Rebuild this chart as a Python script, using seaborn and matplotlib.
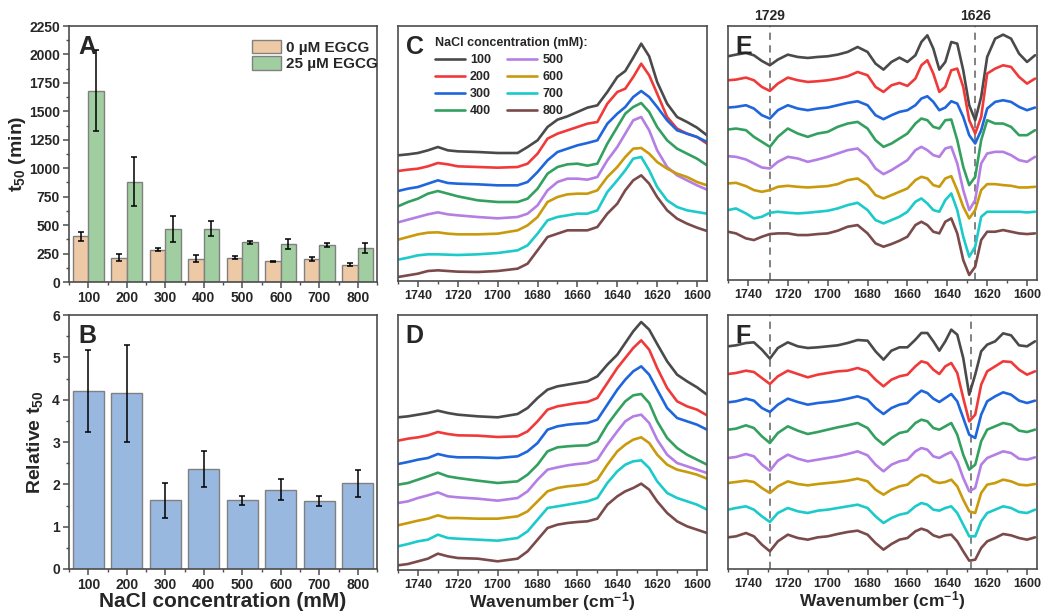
import matplotlib
matplotlib.use("Agg")
import matplotlib.pyplot as plt
import seaborn as sns
import pandas as pd
from matplotlib.ticker import MultipleLocator

# ---- data ----
nacl = ['100', '200', '300', '400', '500', '600', '700', '800']

# panel A: t50 (min)
t50_0 = [400, 214, 285, 205, 214, 182, 202, 153]
t50_0_err = [40, 30, 15, 30, 15, 5, 15, 10]
t50_25 = [1680, 880, 466, 470, 348, 337, 325, 299]
t50_25_err = [355, 215, 115, 65, 15, 45, 15, 45]

# panel B: relative t50
rel_t50 = [4.21, 4.15, 1.62, 2.36, 1.62, 1.87, 1.61, 2.02]
rel_t50_err = [0.97, 1.15, 0.41, 0.43, 0.11, 0.25, 0.12, 0.33]

# spectra (a.u., stacked as in the figure)
wn_cd = [1750, 1745, 1740, 1735, 1730, 1725, 1720, 1710, 1700, 1690, 1685, 1680, 1675, 1670, 1665,
         1660, 1655, 1650, 1645, 1640, 1636, 1632, 1628, 1624, 1620, 1615, 1610, 1605, 1600, 1595]
wn_ef = [1750, 1746, 1741, 1737, 1733, 1729, 1725, 1720, 1715, 1710, 1705, 1700, 1695, 1690, 1685,
         1680, 1676, 1672, 1668, 1664, 1660, 1656, 1653, 1650, 1647, 1644, 1641, 1638, 1635, 1632,
         1629, 1626, 1623, 1620, 1616, 1612, 1608, 1604, 1600, 1596]

spec_c = {
    '100': [375, 378, 382, 390, 400, 390, 387, 385, 382, 382, 400, 420, 460, 482, 492, 505, 518, 525, 565, 610, 628, 668, 710, 672, 595, 530, 490, 475, 458, 435],
    '200': [328, 332, 335, 342, 352, 348, 342, 340, 338, 340, 350, 380, 425, 440, 450, 460, 470, 475, 530, 565, 575, 610, 650, 615, 560, 490, 455, 440, 430, 410],
    '300': [268, 275, 280, 290, 300, 292, 290, 288, 285, 285, 295, 325, 360, 385, 395, 405, 412, 420, 470, 500, 520, 550, 568, 550, 520, 480, 450, 440, 430, 415],
    '400': [222, 235, 245, 260, 268, 260, 252, 240, 235, 235, 245, 275, 320, 340, 348, 350, 344, 350, 410, 460, 500, 520, 532, 505, 460, 420, 395, 380, 365, 345],
    '500': [174, 182, 190, 198, 204, 198, 195, 190, 186, 190, 200, 225, 270, 295, 305, 305, 302, 310, 360, 400, 440, 480, 490, 450, 390, 340, 315, 300, 285, 272],
    '600': [122, 130, 138, 143, 144, 140, 138, 138, 140, 150, 165, 190, 235, 250, 258, 260, 260, 270, 310, 340, 370, 395, 397, 380, 355, 335, 320, 310, 295, 285],
    '700': [62, 68, 75, 78, 78, 77, 76, 78, 82, 90, 105, 140, 180, 190, 195, 200, 200, 210, 265, 300, 330, 365, 370, 330, 280, 240, 220, 210, 205, 200],
    '800': [10, 15, 20, 28, 30, 28, 26, 25, 28, 35, 50, 90, 130, 140, 150, 150, 150, 160, 200, 230, 270, 300, 315, 290, 250, 210, 185, 170, 158, 148],
}
spec_d = {
    '100': [452, 455, 460, 465, 472, 465, 460, 455, 452, 462, 480, 510, 535, 545, 550, 555, 560, 575, 610, 640, 675, 710, 738, 715, 672, 620, 580, 560, 542, 520],
    '200': [382, 388, 392, 398, 408, 402, 398, 397, 393, 395, 410, 440, 475, 485, 490, 495, 498, 510, 555, 600, 630, 660, 683, 655, 600, 540, 500, 485, 475, 458],
    '300': [312, 318, 325, 330, 342, 335, 332, 332, 330, 335, 350, 375, 415, 425, 430, 433, 435, 445, 490, 535, 565, 590, 605, 580, 535, 480, 450, 440, 430, 415],
    '400': [250, 255, 265, 275, 286, 275, 270, 262, 255, 260, 280, 310, 350, 362, 365, 367, 368, 380, 430, 470, 500, 518, 522, 495, 440, 390, 360, 340, 325, 310],
    '500': [195, 200, 210, 218, 227, 215, 212, 208, 202, 210, 230, 265, 295, 302, 308, 312, 315, 325, 370, 410, 440, 455, 460, 435, 385, 340, 315, 305, 295, 285],
    '600': [128, 135, 142, 148, 158, 150, 150, 148, 148, 155, 170, 200, 230, 240, 245, 248, 252, 265, 310, 350, 370, 385, 392, 375, 340, 310, 295, 288, 280, 268],
    '700': [65, 72, 80, 85, 100, 90, 88, 85, 82, 90, 110, 145, 180, 185, 190, 195, 200, 210, 255, 290, 310, 320, 323, 300, 260, 225, 210, 200, 190, 175],
    '800': [8, 12, 20, 28, 43, 35, 30, 28, 20, 28, 50, 85, 120, 130, 135, 138, 140, 148, 190, 215, 230, 240, 253, 235, 200, 165, 140, 125, 115, 105],
}
spec_e = {
    '100': [672, 677, 682, 675, 658, 645, 662, 677, 670, 667, 670, 672, 677, 685, 700, 685, 650, 632, 655, 668, 655, 675, 715, 735, 695, 632, 655, 715, 710, 630, 525, 480, 550, 670, 725, 737, 725, 680, 655, 675],
    '200': [600, 602, 608, 600, 580, 568, 590, 608, 600, 595, 597, 600, 605, 612, 625, 615, 580, 565, 585, 592, 583, 605, 645, 660, 620, 565, 580, 630, 635, 580, 480, 440, 490, 620, 635, 645, 640, 610, 590, 605],
    '300': [518, 520, 525, 515, 495, 485, 510, 525, 515, 510, 515, 518, 525, 532, 537, 525, 495, 483, 495, 505, 510, 525, 545, 552, 535, 510, 518, 537, 530, 490, 435, 410, 450, 515, 535, 540, 535, 520, 510, 518],
    '400': [452, 455, 450, 430, 415, 400, 430, 455, 440, 430, 440, 445, 460, 470, 475, 455, 420, 400, 410, 425, 440, 470, 485, 480, 460, 455, 480, 482, 420, 340, 285, 310, 420, 480, 470, 470, 460, 435, 435, 450],
    '500': [372, 370, 362, 350, 338, 335, 355, 370, 365, 355, 362, 370, 380, 390, 395, 370, 335, 318, 330, 345, 360, 390, 400, 390, 375, 370, 395, 400, 350, 270, 210, 240, 350, 380, 385, 385, 375, 360, 355, 370],
    '600': [290, 292, 282, 270, 265, 270, 280, 283, 280, 278, 280, 282, 288, 300, 305, 285, 255, 245, 255, 265, 275, 300, 310, 305, 285, 280, 305, 312, 270, 220, 185, 210, 270, 288, 288, 285, 283, 278, 278, 280],
    '700': [210, 215, 200, 185, 190, 202, 205, 202, 200, 202, 205, 208, 215, 225, 232, 210, 180, 170, 180, 190, 205, 235, 245, 230, 210, 205, 240, 260, 210, 130, 70, 100, 190, 205, 205, 205, 205, 205, 203, 205],
    '800': [145, 140, 125, 120, 130, 138, 140, 140, 135, 135, 138, 140, 148, 160, 165, 140, 110, 100, 108, 118, 130, 165, 175, 165, 145, 140, 175, 185, 140, 60, 15, 40, 120, 145, 145, 150, 145, 140, 138, 140],
}
spec_f = {
    '100': [665, 668, 675, 677, 655, 628, 660, 677, 665, 660, 662, 665, 668, 675, 684, 682, 650, 625, 652, 662, 662, 685, 705, 705, 680, 652, 680, 715, 700, 630, 520, 580, 650, 670, 680, 704, 698, 668, 665, 680],
    '200': [582, 585, 592, 588, 570, 552, 575, 592, 582, 572, 580, 585, 590, 592, 600, 590, 565, 545, 565, 575, 580, 605, 620, 615, 595, 582, 605, 615, 585, 510, 440, 460, 550, 590, 605, 620, 618, 595, 580, 590],
    '300': [497, 500, 508, 502, 480, 468, 490, 508, 498, 490, 495, 498, 502, 508, 515, 505, 480, 462, 480, 490, 495, 518, 532, 525, 508, 498, 510, 522, 500, 450, 400, 390, 460, 500, 515, 527, 520, 502, 495, 502],
    '400': [415, 418, 428, 420, 395, 375, 405, 425, 412, 402, 408, 415, 422, 428, 435, 420, 390, 370, 390, 405, 410, 435, 445, 440, 420, 415, 425, 435, 400, 340, 295, 310, 380, 415, 425, 435, 430, 412, 408, 415],
    '500': [330, 333, 342, 335, 310, 292, 322, 340, 328, 320, 325, 330, 335, 342, 350, 338, 310, 290, 310, 320, 325, 350, 360, 355, 335, 330, 340, 348, 320, 270, 230, 240, 310, 330, 340, 350, 345, 328, 325, 332],
    '600': [255, 258, 262, 258, 240, 225, 245, 260, 252, 248, 252, 255, 258, 262, 268, 260, 235, 220, 235, 245, 250, 270, 280, 275, 260, 255, 258, 265, 245, 205, 170, 165, 225, 250, 255, 265, 260, 250, 248, 252],
    '700': [175, 180, 185, 175, 155, 138, 165, 180, 170, 165, 172, 175, 180, 185, 190, 180, 155, 135, 150, 160, 165, 185, 195, 190, 175, 172, 180, 185, 165, 130, 95, 95, 140, 165, 175, 185, 180, 168, 165, 175],
    '800': [92, 95, 105, 95, 70, 50, 80, 100, 90, 85, 92, 95, 102, 108, 112, 100, 75, 55, 72, 85, 90, 110, 118, 112, 98, 92, 98, 100, 80, 50, 22, 25, 60, 80, 90, 102, 98, 90, 85, 92],
}
marker_lines_e = [1729, 1626]
marker_lines_f = [1729, 1628]

line_colors = ['#4a4a4a', '#f03a3a', '#1f66dd', '#34a060', '#b47ee4', '#c99a0c', '#1ccaca', '#7b4a4a']
orange, green, blue = '#fac89a', '#9ad59a', '#8db7ec'
edge = '#808080'
spine_c = '#4d4d4d'

# ---- style ----
sns.set_style("ticks")
plt.rcParams['font.family'] = ['Liberation Sans', 'DejaVu Sans']
plt.rcParams['font.weight'] = 'bold'
plt.rcParams['axes.labelweight'] = 'bold'
plt.rcParams['mathtext.fontset'] = 'custom'
plt.rcParams['mathtext.bf'] = 'Liberation Sans:bold'
plt.rcParams['mathtext.rm'] = 'Liberation Sans:bold'
plt.rcParams['mathtext.default'] = 'bf'
plt.rcParams['lines.solid_joinstyle'] = 'round'

fig = plt.figure(figsize=(10.42, 6.13), dpi=100)
W, H = 1042, 613


def ax_at(l, t, r, b):
    return fig.add_axes([l / W, 1 - b / H, (r - l) / W, (b - t) / H])


def frame(ax, size):
    for s in ax.spines.values():
        s.set_visible(True)
        s.set_color(spine_c)
        s.set_linewidth(1.2)
    ax.tick_params(which='major', direction='out', length=4, width=1.1, color=spine_c,
                   labelsize=size, pad=2.5)
    ax.tick_params(which='minor', direction='out', length=2.5, width=1.0, color=spine_c)


axA = ax_at(69, 26, 377, 282)
axB = ax_at(69, 315, 377, 569)
axC = ax_at(398, 26, 707, 281)
axD = ax_at(398, 315, 707, 570)
axE = ax_at(728, 26, 1037, 280)
axF = ax_at(728, 315, 1037, 569)

# ---- panel A ----
dfA = pd.DataFrame({
    'NaCl': nacl * 2,
    't50': t50_0 + t50_25,
    'EGCG': ['0 µM EGCG'] * 8 + ['25 µM EGCG'] * 8,
})
sns.barplot(data=dfA, x='NaCl', y='t50', hue='EGCG', palette=[orange, green], errorbar=None,
            edgecolor=edge, linewidth=1.0, width=0.8, ax=axA)
for cont, errs in zip(axA.containers, [t50_0_err, t50_25_err]):
    xs = [b.get_x() + b.get_width() / 2 for b in cont]
    ys = [b.get_height() for b in cont]
    axA.errorbar(xs, ys, yerr=errs, fmt='none', ecolor='black', elinewidth=1.1, capsize=2.5, capthick=1.1)
h, l = axA.get_legend_handles_labels()
axA.legend(h, l, loc='upper left', bbox_to_anchor=(0.595, 0.945), frameon=False, fontsize=11,
           handlelength=1.9, handleheight=0.95, handletextpad=0.3, labelspacing=0.1, borderaxespad=0, borderpad=0)
axA.set_ylim(0, 2250)
axA.set_xlim(-0.5, 7.5)
axA.yaxis.set_major_locator(MultipleLocator(250))
axA.yaxis.set_minor_locator(MultipleLocator(125))
axA.xaxis.set_minor_locator(MultipleLocator(0.5))
axA.set_xlabel('')
axA.set_ylabel('t$_{50}$ (min)', fontsize=14, labelpad=1)
frame(axA, 10)
axA.text(0.03, 0.965, 'A', transform=axA.transAxes, fontsize=18, fontweight='bold', va='top')

# ---- panel B ----
sns.barplot(x=nacl, y=rel_t50, color=blue, errorbar=None, edgecolor=edge, linewidth=1.0, width=0.8, ax=axB)
xs = [b.get_x() + b.get_width() / 2 for b in axB.containers[0]]
axB.errorbar(xs, rel_t50, yerr=rel_t50_err, fmt='none', ecolor='black', elinewidth=1.1, capsize=2.5, capthick=1.1)
axB.set_ylim(0, 6)
axB.set_xlim(-0.5, 7.5)
axB.yaxis.set_major_locator(MultipleLocator(1))
axB.yaxis.set_minor_locator(MultipleLocator(0.5))
axB.xaxis.set_minor_locator(MultipleLocator(0.5))
axB.set_xlabel('NaCl concentration (mM)', fontsize=15, labelpad=0)
axB.set_ylabel('Relative t$_{50}$', fontsize=14, labelpad=5)
frame(axB, 10)
axB.text(0.03, 0.965, 'B', transform=axB.transAxes, fontsize=18, fontweight='bold', va='top')


# ---- spectra ----
def spectra(ax, wn, spec, ylim, letter, legend=False):
    rows = []
    for k in nacl:
        for w, v in zip(wn, spec[k]):
            rows.append((w, v, k))
    df = pd.DataFrame(rows, columns=['wn', 'val', 'NaCl'])
    sns.lineplot(data=df, x='wn', y='val', hue='NaCl', hue_order=nacl, palette=line_colors,
                 linewidth=1.9, estimator=None, sort=False, legend=legend, ax=ax)
    ax.set_xlim(1750, 1595)
    ax.set_ylim(*ylim)
    ax.set_yticks([])
    ax.xaxis.set_major_locator(MultipleLocator(20))
    ax.xaxis.set_minor_locator(MultipleLocator(10))
    ax.set_ylabel('')
    ax.set_xlabel('')
    frame(ax, 9)
    ax.text(0.025, 0.965, letter, transform=ax.transAxes, fontsize=18, fontweight='bold', va='top')
    if legend:
        hh, ll = ax.get_legend_handles_labels()
        ax.legend(hh, ll, title='NaCl concentration (mM):', ncol=2, loc='upper left',
                  bbox_to_anchor=(0.12, 0.955), frameon=False, fontsize=9, title_fontsize=9,
                  handlelength=2.4, handletextpad=0.4, columnspacing=1.3, labelspacing=0.4,
                  borderaxespad=0, borderpad=0, alignment='left')


spectra(axC, wn_cd, spec_c, (-2, 763), 'C', legend=True)
spectra(axD, wn_cd, spec_d, (-6, 759), 'D')
spectra(axE, wn_ef, spec_e, (0, 763), 'E')
spectra(axF, wn_ef, spec_f, (-3, 759), 'F')

for ax, marks in [(axE, marker_lines_e), (axF, marker_lines_f)]:
    for m in marks:
        ax.axvline(m, color='#777777', linestyle=(0, (4, 3)), linewidth=1.3, zorder=0)
for m in marker_lines_e:
    axE.text(m, 1.012, str(m), transform=axE.get_xaxis_transform(), ha='center', va='bottom',
             fontsize=10, fontweight='bold')

axD.set_xlabel('Wavenumber (cm$^{-1}$)', fontsize=12.5, labelpad=-1)
axF.set_xlabel('Wavenumber (cm$^{-1}$)', fontsize=12.5, labelpad=-1)

fig.savefig('out.png', dpi=100)
